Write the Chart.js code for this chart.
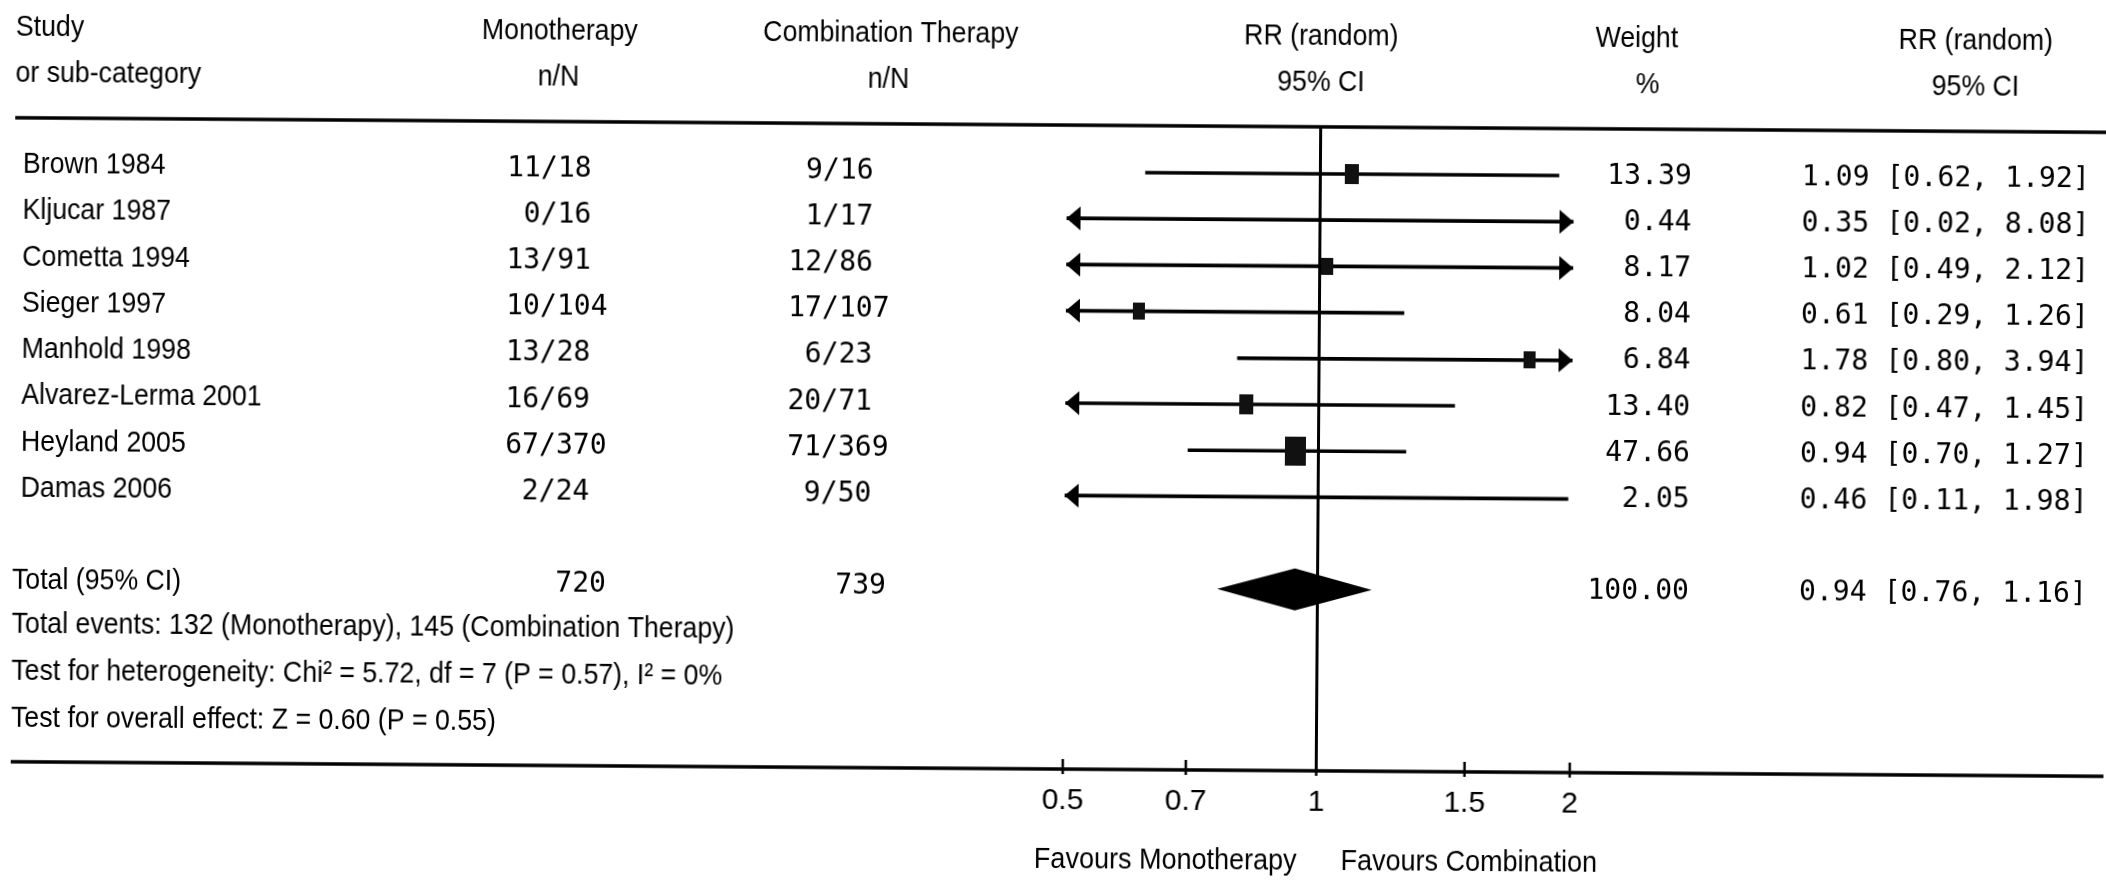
<!DOCTYPE html>
<html>
<head>
<meta charset="utf-8">
<script src="https://cdn.jsdelivr.net/npm/chart.js@4.4.0/dist/chart.umd.min.js"></script>
<style>
  html, body { margin: 0; padding: 0; background: #fff; overflow: hidden; }
  #wrap { width: 2106px; height: 882px; transform: rotate(0.4deg); transform-origin: 50% 50%; }
  canvas { display: block; }
</style>
</head>
<body>
<div id="wrap"><canvas id="forest" width="2106" height="882"></canvas></div>
<script>
// ---- study data ----
const studies = ['Brown 1984', 'Kljucar 1987', 'Cometta 1994', 'Sieger 1997',
                 'Manhold 1998', 'Alvarez-Lerma 2001', 'Heyland 2005', 'Damas 2006'];
const monoEvents  = [11, 0, 13, 10, 13, 16, 67, 2];
const monoTotals  = [18, 16, 91, 104, 28, 69, 370, 24];
const comboEvents = [9, 1, 12, 17, 6, 20, 71, 9];
const comboTotals = [16, 17, 86, 107, 23, 71, 369, 50];
const weights     = [13.39, 0.44, 8.17, 8.04, 6.84, 13.40, 47.66, 2.05];
const rrEstimates = [1.09, 0.35, 1.02, 0.61, 1.78, 0.82, 0.94, 0.46];
const rrLower     = [0.62, 0.02, 0.49, 0.29, 0.80, 0.47, 0.70, 0.11];
const rrUpper     = [1.92, 8.08, 2.12, 1.26, 3.94, 1.45, 1.27, 1.98];

// ---- pooled result ----
const totalMono = 720;
const totalCombo = 739;
const totalWeight = 100.00;
const totalEstimate = 0.94;
const totalLower = 0.76;
const totalUpper = 1.16;

// ---- axis ----
const xTickValues = [0.5, 0.7, 1, 1.5, 2];
const xTickLabels = ['0.5', '0.7', '1', '1.5', '2'];
const xMin = 0.5, xMax = 2;

const footnotes = [
  'Total events: 132 (Monotherapy), 145 (Combination Therapy)',
  'Test for heterogeneity: Chi\u00B2 = 5.72, df = 7 (P = 0.57), I\u00B2 = 0%',
  'Test for overall effect: Z = 0.60 (P = 0.55)'
];

const SANS = '"Liberation Sans", Arial, sans-serif';
const MONO = '"DejaVu Sans Mono", "Liberation Mono", monospace';
const SANS_FONT = '30px ' + SANS;
const MONO_FONT = '29px ' + MONO;
const SANS_SX = 0.89;
const MONO_SX = 0.97;
const TOTAL_ROW = studies.length + 1;

function fmt2(v) { return v.toFixed(2); }
function ciText(e, l, u) { return fmt2(e) + ' [' + fmt2(l) + ', ' + fmt2(u) + ']'; }

function txt(ctx, s, x, y, align, font, sx) {
  ctx.save();
  ctx.font = font;
  ctx.translate(x, y);
  ctx.scale(sx, 1);
  ctx.textAlign = align;
  ctx.textBaseline = 'middle';
  ctx.fillStyle = '#000';
  ctx.fillText(s, 0, 0);
  ctx.restore();
}

// square marker sized by study weight (taller than wide)
function weightMarker(w) {
  const bw = Math.round(6 + 2.2 * Math.sqrt(w));
  const bh = Math.round(bw * 1.4);
  const c = document.createElement('canvas');
  c.width = bw; c.height = bh;
  const g = c.getContext('2d');
  g.fillStyle = '#111';
  g.fillRect(0, 0, bw, bh);
  return c;
}
const markers = weights.map(weightMarker);

const forestTable = {
  id: 'forestTable',
  beforeDatasetsDraw(chart) {
    const { ctx, chartArea: a, scales: { x } } = chart;
    const x1 = x.getPixelForValue(1);
    ctx.save();
    ctx.strokeStyle = '#000';
    ctx.lineWidth = 3;
    ctx.beginPath();
    ctx.moveTo(x1, a.top);
    ctx.lineTo(x1, a.bottom);
    ctx.stroke();
    ctx.restore();
  },
  afterDraw(chart) {
    const { ctx, chartArea: a, scales: { x, y } } = chart;
    const W = chart.width;

    // rules
    ctx.save();
    ctx.strokeStyle = '#000';
    ctx.lineWidth = 3.5;
    ctx.beginPath();
    ctx.moveTo(13, a.top); ctx.lineTo(W, a.top);
    ctx.moveTo(13, a.bottom); ctx.lineTo(W, a.bottom);
    ctx.stroke();
    // tick marks
    ctx.lineWidth = 2.5;
    ctx.beginPath();
    xTickValues.forEach(v => {
      const px = x.getPixelForValue(v);
      ctx.moveTo(px, a.bottom - 10);
      ctx.lineTo(px, a.bottom + 5);
    });
    ctx.stroke();
    ctx.restore();

    // arrows where the interval runs past the axis
    ctx.save();
    ctx.fillStyle = '#000';
    studies.forEach((s, i) => {
      const py = y.getPixelForValue(i);
      if (rrLower[i] < xMin) {
        const tip = x.getPixelForValue(xMin);
        ctx.beginPath();
        ctx.moveTo(tip, py);
        ctx.lineTo(tip + 14, py - 12);
        ctx.lineTo(tip + 14, py + 12);
        ctx.closePath();
        ctx.fill();
      }
      if (rrUpper[i] > xMax) {
        const tip = x.getPixelForValue(xMax);
        ctx.beginPath();
        ctx.moveTo(tip, py);
        ctx.lineTo(tip - 14, py - 12);
        ctx.lineTo(tip - 14, py + 12);
        ctx.closePath();
        ctx.fill();
      }
    });

    // pooled diamond
    const ty = y.getPixelForValue(TOTAL_ROW);
    ctx.beginPath();
    ctx.moveTo(x.getPixelForValue(totalLower), ty);
    ctx.lineTo(x.getPixelForValue(totalEstimate), ty - 21);
    ctx.lineTo(x.getPixelForValue(totalUpper), ty);
    ctx.lineTo(x.getPixelForValue(totalEstimate), ty + 21);
    ctx.closePath();
    ctx.fill();
    ctx.restore();

    // column headers
    const x1 = x.getPixelForValue(1);
    const h1 = 35, h2 = 81;
    txt(ctx, 'Study', 13, h1, 'left', SANS_FONT, SANS_SX);
    txt(ctx, 'or sub-category', 13, h2, 'left', SANS_FONT, SANS_SX);
    txt(ctx, 'Monotherapy', 557, h1, 'center', SANS_FONT, SANS_SX);
    txt(ctx, 'n/N', 556, h2, 'center', SANS_FONT, SANS_SX);
    txt(ctx, 'Combination Therapy', 888, h1, 'center', SANS_FONT, SANS_SX);
    txt(ctx, 'n/N', 886, h2, 'center', SANS_FONT, SANS_SX);
    txt(ctx, 'RR (random)', x1, h1, 'center', SANS_FONT, SANS_SX);
    txt(ctx, '95% CI', x1, h2, 'center', SANS_FONT, SANS_SX);
    txt(ctx, 'Weight', 1634, h1, 'center', SANS_FONT, SANS_SX);
    txt(ctx, '%', 1645, h2, 'center', SANS_FONT, SANS_SX);
    txt(ctx, 'RR (random)', 1973, h1, 'center', SANS_FONT, SANS_SX);
    txt(ctx, '95% CI', 1973, h2, 'center', SANS_FONT, SANS_SX);

    // study rows
    studies.forEach((s, i) => {
      const py = y.getPixelForValue(i);
      txt(ctx, s, 21, py, 'left', SANS_FONT, SANS_SX);
      txt(ctx, String(monoEvents[i]), 539, py, 'right', MONO_FONT, MONO_SX);
      txt(ctx, '/' + monoTotals[i], 539, py, 'left', MONO_FONT, MONO_SX);
      txt(ctx, String(comboEvents[i]), 821, py, 'right', MONO_FONT, MONO_SX);
      txt(ctx, '/' + comboTotals[i], 821, py, 'left', MONO_FONT, MONO_SX);
      txt(ctx, fmt2(weights[i]), 1690, py, 'right', MONO_FONT, MONO_SX);
      txt(ctx, ciText(rrEstimates[i], rrLower[i], rrUpper[i]), 1800, py, 'left', MONO_FONT, MONO_SX);
    });

    // pooled row
    txt(ctx, 'Total (95% CI)', 13, ty, 'left', SANS_FONT, SANS_SX);
    txt(ctx, String(totalMono), 607, ty, 'right', MONO_FONT, MONO_SX);
    txt(ctx, String(totalCombo), 887, ty, 'right', MONO_FONT, MONO_SX);
    txt(ctx, fmt2(totalWeight), 1690, ty, 'right', MONO_FONT, MONO_SX);
    txt(ctx, ciText(totalEstimate, totalLower, totalUpper), 1800, ty, 'left', MONO_FONT, MONO_SX);

    footnotes.forEach((f, k) => {
      txt(ctx, f, 13, ty + 44 + 47 * k, 'left', SANS_FONT, SANS_SX);
    });

    // direction labels
    txt(ctx, 'Favours Monotherapy', x1 - 19, 860, 'right', SANS_FONT, 0.9);
    txt(ctx, 'Favours Combination', x1 + 25, 860, 'left', SANS_FONT, 0.9);
  }
};

const ciData = studies.map((s, i) => ({ x: [rrLower[i], rrUpper[i]], y: i }));
const pointData = studies.map((s, i) => ({ x: rrEstimates[i], y: i }));

new Chart(document.getElementById('forest'), {
  type: 'bar',
  data: {
    datasets: [
      {
        type: 'scatter',
        label: 'RR',
        data: pointData,
        pointStyle: ctx => markers[ctx.dataIndex],
        pointRadius: 10,
        clip: 0,
        order: 0
      },
      {
        type: 'bar',
        label: '95% CI',
        data: ciData,
        backgroundColor: '#000',
        borderWidth: 0,
        barThickness: 3,
        order: 1
      }
    ]
  },
  options: {
    indexAxis: 'y',
    responsive: false,
    animation: false,
    events: [],
    layout: { padding: { left: 1065, right: 534, top: 125, bottom: 53 } },
    plugins: { legend: { display: false }, title: { display: false }, tooltip: { enabled: false } },
    scales: {
      x: {
        type: 'logarithmic',
        position: 'bottom',
        min: xMin,
        max: xMax,
        offset: false,
        grid: { display: false, drawTicks: false },
        border: { display: false },
        afterBuildTicks: scale => { scale.ticks = xTickValues.map(v => ({ value: v })); },
        afterFit: scale => { scale.height = 60; },
        ticks: {
          autoSkip: false,
          maxRotation: 0,
          padding: 14,
          color: '#000',
          font: { family: SANS, size: 30 },
          callback: (v, idx) => xTickLabels[idx]
        }
      },
      y: {
        type: 'linear',
        display: false,
        offset: false,
        grace: 0,
        reverse: true,
        min: -1.017,
        max: 12.92
      }
    }
  },
  plugins: [forestTable]
});
</script>
</body>
</html>
